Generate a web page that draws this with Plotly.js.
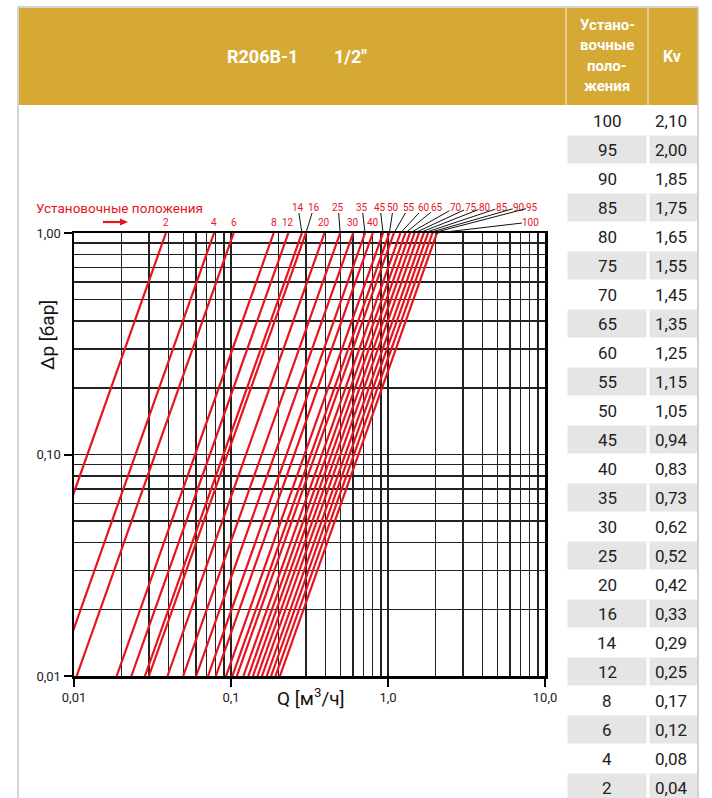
<!DOCTYPE html>
<html><head><meta charset="utf-8">
<script src="https://cdn.plot.ly/plotly-3.0.1.min.js"></script>
<style>html,body{margin:0;padding:0;background:#fff;}#chart{width:712px;height:798px;}</style>
</head><body><div id="chart"></div>
<script>
// ---- data ----
const tablePositions = ['100','95','90','85','80','75','70','65','60','55','50','45','40','35','30','25','20','16','14','12','8','6','4','2'];
const tableKv = ['2,10','2,00','1,85','1,75','1,65','1,55','1,45','1,35','1,25','1,15','1,05','0,94','0,83','0,73','0,62','0,52','0,42','0,33','0,29','0,25','0,17','0,12','0,08','0,04'];
const lineSettings = ['2','4','6','8','12','14','16','20','25','30','35','40','45','50','55','60','65','70','75','80','85','90','95','100'];
const qAtHighDp = [0.0385,0.078,0.104,0.187,0.232,0.283,0.300,0.394,0.496,0.600,0.714,0.800,0.930,1.020,1.090,1.200,1.290,1.380,1.475,1.575,1.690,1.800,1.920,2.050];
const qAtLowDp  = [0.00385,0.0078,0.0104,0.0187,0.0232,0.0283,0.0300,0.0394,0.0496,0.0600,0.0714,0.0800,0.0930,0.1020,0.1090,0.1200,0.1290,0.1380,0.1475,0.1575,0.1690,0.1800,0.1920,0.2050];
const dpHigh = 1.0, dpLow = 0.01;
const xTickVals = [0.01,0.1,1,10];
const xTickText = ['0,01','0,1','1,0','10,0'];
const yTickVals = [0.01,0.1,1];
const yTickText = ['0,01','0,10','1,00'];
const xMinorVals = [0.02,0.03,0.04,0.05,0.06,0.07,0.08,0.09,0.2,0.3,0.4,0.5,0.6,0.7,0.8,0.9,2,3,4,5,6,7,8,9];
const yMinorVals = [0.02,0.03,0.04,0.05,0.06,0.07,0.08,0.09,0.2,0.3,0.4,0.5,0.6,0.7,0.8,0.9];

// ---- styles / layout ----
const RED = '#e6141f';
const GOLD = '#d5a933';
const NARROW = 'Roboto, "Liberation Sans Narrow", "DejaVu Sans Condensed", sans-serif';
const ROBOTO = 'Roboto, "Noto Sans", sans-serif';
const L = 74, R = 545, T = 233, B = 676;
const px = x => (x - L) / (R - L);
const py = y => (B - y) / (B - T);
// label placement: [ax, ay] pixel offsets for leader-line labels, or null for label directly above
const labelPlace = {
  '2':null,'4':null,'6':null,'8':null,'12':null,'20':null,'30':null,'40':null,
  '14':[-4,-26],'16':[8,-26],'25':[-2,-26],'35':[-3,-26],'45':[-3,-26],'50':[4,-26],
  '55':[15,-26],'60':[24,-26],'65':[32,-26],'70':[46,-26],'75':[56,-26],'80':[66,-26],
  '85':[78,-26],'90':[91,-26],'95':[100,-26],'100':[94,-11]
};

const traces = lineSettings.map((s, i) => ({
  type: 'scatter', mode: 'lines',
  x: [qAtLowDp[i], qAtHighDp[i]], y: [dpLow, dpHigh],
  line: {color: RED, width: 2.2}, hoverinfo: 'skip', showlegend: false
}));

const shapes = [];
const annotations = [];
function note(xp, yp, text, font, extra) {
  annotations.push(Object.assign({xref:'paper', yref:'paper', x:px(xp), y:py(yp), text:text,
    showarrow:false, xanchor:'center', yanchor:'middle', font:font}, extra || {}));
}
// outer border
shapes.push({type:'line', xref:'paper', yref:'paper', x0:px(18), x1:px(18), y0:py(7), y1:py(798), line:{color:'#c4c4c4', width:1.5}});
shapes.push({type:'line', xref:'paper', yref:'paper', x0:px(18), x1:px(698), y0:py(7), y1:py(7), line:{color:'#c4c4c4', width:1.5}});
shapes.push({type:'line', xref:'paper', yref:'paper', x0:px(698), x1:px(698), y0:py(7), y1:py(798), line:{color:'#c4c4c4', width:1.5}});
// header band
shapes.push({type:'rect', xref:'paper', yref:'paper', x0:px(19), x1:px(697.5), y0:py(105), y1:py(8), fillcolor:GOLD, line:{width:0}});
[566, 648].forEach(xx => shapes.push({type:'line', xref:'paper', yref:'paper', x0:px(xx), x1:px(xx), y0:py(105), y1:py(8), line:{color:'rgba(255,255,255,0.55)', width:1.5}}));
const hdrFont = {family:ROBOTO, size:18, color:'#fff', weight:700};
note(262, 57, 'R206B-1', hdrFont);
note(350, 57, '1/2"', hdrFont);
['Устано-','вочные','поло-','жения'].forEach((t, k) => note(607, 25 + k*20.4, t, {family:ROBOTO, size:15, color:'#fff', weight:700}));
note(672, 57, 'Kv', {family:ROBOTO, size:16, color:'#fff', weight:700});
// table
tablePositions.forEach((p, i) => {
  const top = 106 + i*29;
  if (i % 2 === 1) {
    shapes.push({type:'rect', xref:'paper', yref:'paper', x0:px(567.5), x1:px(646.5), y0:py(top+28.5), y1:py(top+0.5), fillcolor:'#e5e5e5', line:{width:0}});
    shapes.push({type:'rect', xref:'paper', yref:'paper', x0:px(649.5), x1:px(697), y0:py(top+28.5), y1:py(top+0.5), fillcolor:'#e5e5e5', line:{width:0}});
  }
  note(607, top + 15, p, {family:ROBOTO, size:17, color:'#222'});
  note(671, top + 15, tableKv[i], {family:ROBOTO, size:17, color:'#222'});
});
// chart labels
lineSettings.forEach((s, i) => {
  const pl = labelPlace[s];
  const base = {xref:'x', yref:'y', x:Math.log10(qAtHighDp[i]), y:Math.log10(dpHigh), text:s,
    xanchor:'center', yanchor:'middle', font:{family:NARROW, size:10, color:RED}};
  if (pl) {
    annotations.push(Object.assign(base, {showarrow:true, ax:pl[0], ay:pl[1], arrowhead:0, arrowwidth:1, arrowcolor:'#111', standoff:0, startstandoff:0, borderpad:0}));
  } else {
    annotations.push(Object.assign(base, {showarrow:false, yshift:11}));
  }
});
note(34, 208, 'Установочные положения', {family:NARROW, size:13.5, color:RED}, {xanchor:'left'});
// red arrow under the caption
shapes.push({type:'line', xref:'paper', yref:'paper', x0:px(103), x1:px(121), y0:py(222), y1:py(222), line:{color:RED, width:2.2}});
shapes.push({type:'path', xref:'paper', yref:'paper', path:'M ' + px(120) + ' ' + py(218.5) + ' L ' + px(128) + ' ' + py(222) + ' L ' + px(120) + ' ' + py(225.5) + ' Z', fillcolor:RED, line:{width:0}});
note(47, 335, 'Δp [бар]', {family:NARROW, size:19, color:'#111'}, {textangle:-90});
note(311, 697, 'Q [м<sup>3</sup>/ч]', {family:NARROW, size:19, color:'#111'});

const gridColor = '#222';
const axisCommon = {type:'log', tickmode:'array', showgrid:true, gridcolor:gridColor, gridwidth:1.4,
  showline:true, mirror:true, linecolor:'#000', linewidth:2.5,
  ticks:'outside', ticklen:8, tickwidth:2, tickcolor:'#000', zeroline:false,
  tickfont:{family:NARROW, size:13, color:'#222'}};
const layout = {
  width: 712, height: 798,
  margin: {l: L, r: 712 - R, t: T, b: 798 - B, pad: 0},
  paper_bgcolor: '#fff', plot_bgcolor: '#fff',
  showlegend: false,
  xaxis: Object.assign({}, axisCommon, {range:[-2, 1], tickvals:xTickVals, ticktext:xTickText,
    minor:{tickmode:'array', tickvals:xMinorVals, showgrid:true, gridcolor:gridColor, gridwidth:1.4, ticks:''}}),
  yaxis: Object.assign({}, axisCommon, {range:[-2, 0], tickvals:yTickVals, ticktext:yTickText,
    minor:{tickmode:'array', tickvals:yMinorVals, showgrid:true, gridcolor:gridColor, gridwidth:1.4, ticks:''}}),
  shapes: shapes,
  annotations: annotations
};
Plotly.newPlot('chart', traces, layout, {displayModeBar:false, staticPlot:true});
</script></body></html>
